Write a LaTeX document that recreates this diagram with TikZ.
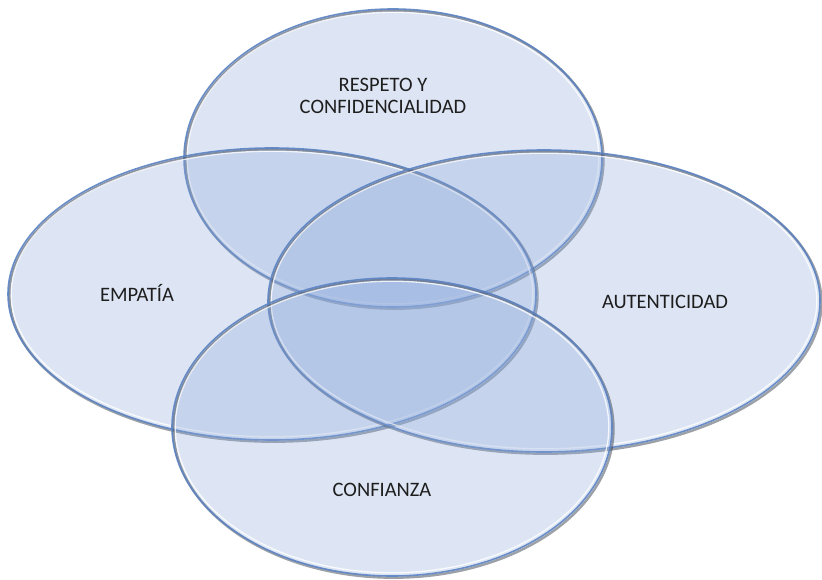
\documentclass[tikz,border=0pt]{standalone}
\usepackage{fontspec}
\setmainfont{Carlito}
\usetikzlibrary{shapes.geometric}
\definecolor{ellfill}{HTML}{8EAADB}
\definecolor{ellline}{HTML}{5A82C2}
\definecolor{ellshadow}{HTML}{3A4250}
\definecolor{txt}{HTML}{1E1E1E}
\tikzset{
  ellfillstyle/.style={fill=ellfill, fill opacity=0.30},
  ellshadowstyle/.style={draw=ellshadow, line width=2.4pt, draw opacity=0.5},
  elllinestyle/.style={draw=ellline, line width=1.6pt, draw opacity=0.9},
  ellhighlight/.style={draw=white, line width=1.3pt, draw opacity=0.8},
  lbl/.style={font=\fontsize{20.5pt}{22pt}\selectfont, text=txt, align=center, inner sep=0pt}
}
\newcommand{\vennell}[4]{%
  \fill[ellfillstyle] (#1pt,-#2pt) ellipse [x radius=#3pt, y radius=#4pt];
  \draw[ellshadowstyle] (#1pt+1.5pt,-#2pt-1.7pt) ellipse [x radius=#3pt, y radius=#4pt];
  \draw[elllinestyle] (#1pt,-#2pt) ellipse [x radius=#3pt, y radius=#4pt];
  \draw[ellhighlight] (#1pt,-#2pt) ellipse [x radius=#3pt-3.2pt, y radius=#4pt-3.2pt];
}
\begin{document}
\begin{tikzpicture}
\useasboundingbox (0,0) rectangle (822pt,-580pt);
\vennell{393}{158}{209}{149}
\vennell{272}{294}{264}{146}
\vennell{544}{301}{276}{151}
\vennell{392}{427}{220}{149}
\node[lbl] (respeto) at (383pt,-96pt) {RESPETO Y\\CONFIDENCIALIDAD};
\node[lbl] (empatia) at (137pt,-293pt) {EMPATÍA};
\node[lbl] (autent) at (665pt,-302pt) {AUTENTICIDAD};
\node[lbl] (confianza) at (382pt,-490pt) {CONFIANZA};
\end{tikzpicture}
\end{document}
